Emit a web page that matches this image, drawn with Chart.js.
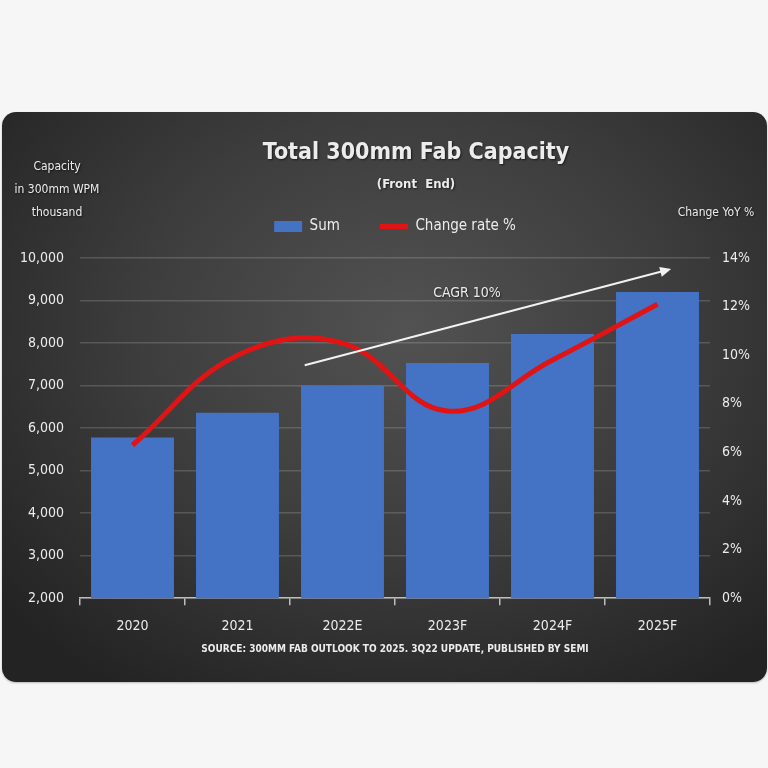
<!DOCTYPE html>
<html>
<head>
<meta charset="utf-8">
<script src="https://cdn.jsdelivr.net/npm/chart.js"></script>
<style>
  html, body { margin: 0; padding: 0; background: #f6f6f6; }
  #wrap { position: relative; width: 768px; height: 768px; }
  #panel {
    position: absolute; left: 2px; top: 112px; width: 765px; height: 570px;
    border-radius: 14px;
    background: radial-gradient(ellipse 70% 75% at 53% 38%, #525252 0%, #3d3d3d 50%, #232323 100%);
    box-shadow: 0 1px 2px rgba(0,0,0,0.25);
  }
  #chart { position: absolute; left: 0; top: 0; }
</style>
</head>
<body>
<div id="wrap">
  <div id="panel"></div>
  <canvas id="chart" width="768" height="768"></canvas>
</div>
<script>
// Данные графика
const years = ["2020", "2021", "2022E", "2023F", "2024F", "2025F"];
const capacity = [5780, 6360, 7000, 7530, 8210, 9200];       // тыс. WPM
const changeRate = [6.3, 10.0, 10.5, 7.7, 9.8, 12.1];          // % YoY
const capacityTicks = [2000, 10000, 1000];                     // min, max, step
const rateTicks = [0, 14, 2];
// стрелка CAGR в координатах данных: [индекс категории, значение левой оси]
const cagrFrom = [1.64, 7480];
const cagrTo = [5.13, 9740];

const FONT = "'DejaVu Sans Condensed', 'Liberation Sans Narrow', sans-serif";
const TXT = "#ececec";

// Надписи поверх графика
const textPlugin = {
    id: "texts",
    afterDatasetsDraw(chart) {
        const ctx = chart.ctx;
        const xs = chart.scales.x, ys = chart.scales.y;
        // стрелка CAGR
        const x0 = xs.getPixelForDecimal((cagrFrom[0] + 0.5) / years.length);
        const y0 = ys.getPixelForValue(cagrFrom[1]);
        const x1 = xs.getPixelForDecimal((cagrTo[0] + 0.5) / years.length);
        const y1 = ys.getPixelForValue(cagrTo[1]);
        const ang = Math.atan2(y1 - y0, x1 - x0);
        ctx.save();
        ctx.strokeStyle = "#f2f2f2";
        ctx.fillStyle = "#f2f2f2";
        ctx.lineWidth = 2;
        ctx.beginPath();
        ctx.moveTo(x0, y0);
        ctx.lineTo(x1 - 8 * Math.cos(ang), y1 - 8 * Math.sin(ang));
        ctx.stroke();
        ctx.beginPath();
        ctx.moveTo(x1, y1);
        ctx.lineTo(x1 - 11 * Math.cos(ang) + 5 * Math.sin(ang), y1 - 11 * Math.sin(ang) - 5 * Math.cos(ang));
        ctx.lineTo(x1 - 11 * Math.cos(ang) - 5 * Math.sin(ang), y1 - 11 * Math.sin(ang) + 5 * Math.cos(ang));
        ctx.closePath();
        ctx.fill();
        ctx.restore();
    },
    afterDraw(chart) {
        const ctx = chart.ctx;
        ctx.save();
        ctx.fillStyle = TXT;
        ctx.textAlign = "center";
        ctx.textBaseline = "middle";
        ctx.shadowColor = "rgba(0,0,0,0.6)";
        ctx.shadowOffsetX = 1;
        ctx.shadowOffsetY = 1;
        ctx.shadowBlur = 2;
        ctx.font = "bold 23px " + FONT;
        ctx.fillText("Total 300mm Fab Capacity", 416, 153);
        ctx.font = "bold 13px " + FONT;
        ctx.fillText("(Front  End)", 416, 185);
        ctx.font = "12px " + FONT;
        ctx.fillText("Capacity", 57, 167);
        ctx.fillText("in 300mm WPM", 57, 190);
        ctx.fillText("thousand", 57, 213);
        ctx.fillText("Change YoY %", 716, 213);
        ctx.font = "14px " + FONT;
        ctx.fillText("CAGR 10%", 467, 293);
        ctx.restore();
    }
};

new Chart(document.getElementById("chart").getContext("2d"), {
    type: "bar",
    data: {
        labels: years,
        datasets: [
            {
                label: "Sum",
                data: capacity,
                backgroundColor: "#4472c4",
                yAxisID: "y",
                order: 1,
                barPercentage: 0.79,
                categoryPercentage: 1
            },
            {
                type: "line",
                label: "Change rate %",
                data: changeRate,
                borderColor: "#e01414",
                backgroundColor: "#e01414",
                borderWidth: 5,
                tension: 0.4,
                pointRadius: 0,
                yAxisID: "y1",
                order: 0
            }
        ]
    },
    options: {
        responsive: false,
        animation: false,
        layout: { padding: { left: 0, right: 0, top: 179, bottom: 113 } },
        plugins: {
            tooltip: { enabled: false },
            // пустой заголовок как отступ между легендой и областью графика
            title: {
                display: true,
                text: "",
                weight: 500,
                fullSize: false,
                font: { size: 1, lineHeight: 1 },
                padding: { top: 0, bottom: 13 }
            },
            legend: {
                fullSize: false,
                labels: {
                    color: TXT,
                    font: { family: FONT, size: 15 },
                    usePointStyle: true,
                    pointStyleWidth: 28,
                    boxHeight: 11,
                    padding: 40,
                    sort: (a, b) => a.datasetIndex - b.datasetIndex,
                    generateLabels(chart) {
                        const items = Chart.defaults.plugins.legend.labels.generateLabels(chart);
                        items.forEach(it => {
                            it.pointStyle = it.datasetIndex === 0 ? "rect" : "line";
                            if (it.datasetIndex === 1) { it.strokeStyle = "#e01414"; it.lineWidth = 5; }
                        });
                        return items;
                    }
                }
            }
        },
        scales: {
            x: {
                offset: true,
                grid: { display: true, offset: true, drawOnChartArea: false, tickLength: 7, color: "#bdbdbd", lineWidth: 1.5 },
                border: { color: "#bdbdbd", width: 1.5 },
                ticks: { color: TXT, font: { family: FONT, size: 14 }, padding: 13 },
                title: {
                    display: true,
                    text: "SOURCE: 300MM FAB OUTLOOK TO 2025. 3Q22 UPDATE, PUBLISHED BY SEMI",
                    color: TXT,
                    font: { family: FONT, size: 10, weight: "bold", lineHeight: 1.2 },
                    padding: { top: -5, bottom: 0 }
                }
            },
            y: {
                position: "left",
                min: capacityTicks[0],
                max: capacityTicks[1],
                ticks: {
                    stepSize: capacityTicks[2],
                    color: TXT,
                    font: { family: FONT, size: 14 },
                    padding: 16,
                    callback: v => v.toLocaleString("en-US")
                },
                grid: { color: "rgba(255,255,255,0.16)", lineWidth: 1.5, drawTicks: false },
                border: { display: false },
                afterFit(scale) { scale.width = 80; }
            },
            y1: {
                position: "right",
                min: rateTicks[0],
                max: rateTicks[1],
                ticks: {
                    stepSize: rateTicks[2],
                    color: TXT,
                    font: { family: FONT, size: 14 },
                    padding: 12,
                    callback: v => v + "%"
                },
                grid: { drawOnChartArea: false, drawTicks: false },
                border: { display: false },
                afterFit(scale) { scale.width = 58; }
            }
        }
    },
    plugins: [textPlugin]
});
</script>
</body>
</html>
